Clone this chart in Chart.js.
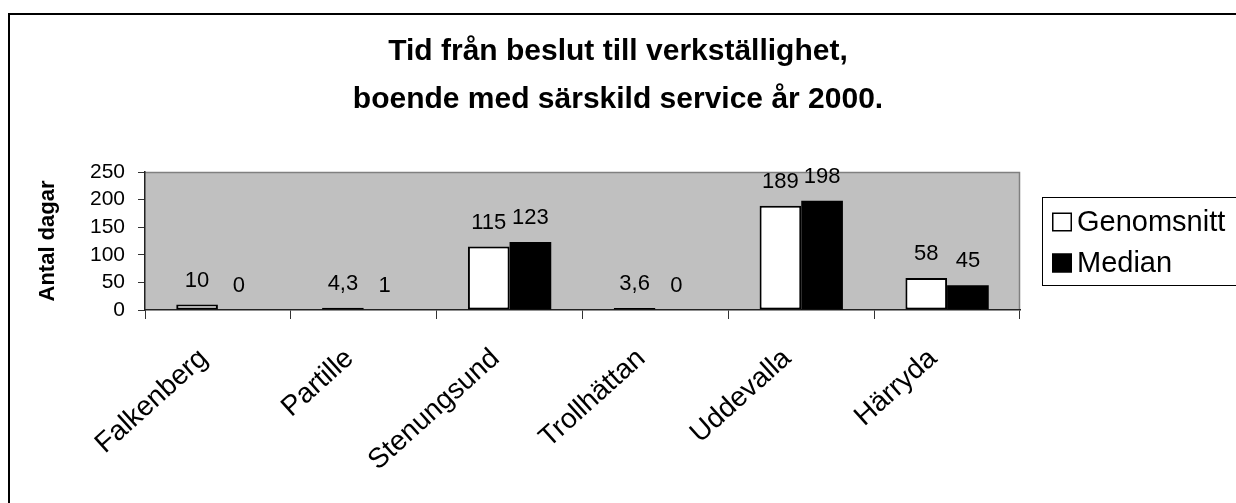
<!DOCTYPE html>
<html><head><meta charset="utf-8">
<script src="https://cdn.jsdelivr.net/npm/chart.js@4/dist/chart.umd.min.js"></script>
<style>html,body{margin:0;padding:0;background:#fff;overflow:hidden;}</style>
</head><body>
<canvas id="c" width="1236" height="503" style="display:block;width:1236px;height:503px"></canvas>
<script>
const titleLines = ['Tid från beslut till verkställighet,', 'boende med särskild service år 2000.'];
const categories = ['Falkenberg', 'Partille', 'Stenungsund', 'Trollhättan', 'Uddevalla', 'Härryda'];
const genomsnitt = [10, 4.3, 115, 3.6, 189, 58];
const median = [0, 1, 123, 0, 198, 45];
const seriesNames = ['Genomsnitt', 'Median'];
const seriesFill = ['#ffffff', '#000000'];
const yTickStep = 50;
const yMin = 0;
const yMax = 250;
const yAxisTitle = 'Antal dagar';

const FONT = "'Liberation Sans', Arial, Helvetica, sans-serif";

const decorPlugin = {
  id: 'decor',
  beforeDraw(chart) {
    const ctx = chart.ctx, a = chart.chartArea;
    ctx.save();
    ctx.fillStyle = '#ffffff';
    ctx.fillRect(0, 0, chart.width, chart.height);
    ctx.strokeStyle = '#000';
    ctx.lineWidth = 2;
    ctx.strokeRect(9, 14, 1400, 700);
    ctx.fillStyle = '#C0C0C0';
    ctx.fillRect(a.left, a.top, a.right - a.left, a.bottom - a.top);
    ctx.strokeStyle = '#808080';
    ctx.lineWidth = 1.5;
    ctx.beginPath();
    ctx.moveTo(a.left, a.top + 0.5);
    ctx.lineTo(a.right - 0.5, a.top + 0.5);
    ctx.lineTo(a.right - 0.5, a.bottom);
    ctx.stroke();
    ctx.restore();
  },
  afterDatasetsDraw(chart) {
    const ctx = chart.ctx;
    ctx.save();
    ctx.font = '22px ' + FONT;
    ctx.fillStyle = '#000';
    ctx.textAlign = 'center';
    ctx.textBaseline = 'middle';
    chart.data.datasets.forEach((ds, i) => {
      const meta = chart.getDatasetMeta(i);
      meta.data.forEach((bar, j) => {
        const v = ds.data[j];
        ctx.fillText(String(v).replace('.', ','), bar.x, bar.y - 24);
      });
    });
    ctx.restore();
  },
  afterDraw(chart) {
    const ctx = chart.ctx;
    ctx.save();
    // title
    ctx.font = 'bold 30px ' + FONT;
    ctx.fillStyle = '#000';
    ctx.textAlign = 'center';
    ctx.textBaseline = 'alphabetic';
    ctx.fillText(titleLines[0], 618, 60);
    ctx.fillText(titleLines[1], 618, 108);
    // legend
    ctx.strokeStyle = '#000';
    ctx.lineWidth = 1;
    ctx.strokeRect(1042.5, 197.5, 260, 88);
    ctx.font = '29px ' + FONT;
    ctx.textAlign = 'left';
    ctx.textBaseline = 'middle';
    const rows = [222, 263];
    chart.data.datasets.forEach((ds, i) => {
      const y = rows[i];
      ctx.fillStyle = ds.backgroundColor;
      ctx.fillRect(1052, y - 9.5, 20, 19);
      ctx.lineWidth = 1.5;
      ctx.strokeStyle = '#000';
      ctx.strokeRect(1052.75, y - 8.75, 18.5, 17.5);
      ctx.fillStyle = '#000';
      ctx.fillText(ds.label, 1077, y + 1);
    });
    ctx.restore();
  }
};

new Chart(document.getElementById('c'), {
  type: 'bar',
  data: {
    labels: categories,
    datasets: [
      { label: seriesNames[0], data: genomsnitt, backgroundColor: seriesFill[0], borderColor: '#000', borderWidth: 2, borderSkipped: false },
      { label: seriesNames[1], data: median, backgroundColor: seriesFill[1], borderColor: '#000', borderWidth: 0 }
    ]
  },
  options: {
    responsive: false,
    animation: false,
    devicePixelRatio: 1,
    layout: { padding: { top: 172, left: 8, right: 216, bottom: 0 } },
    datasets: { bar: { categoryPercentage: 0.5714, barPercentage: 1.0 } },
    plugins: { legend: { display: false }, title: { display: false }, tooltip: { enabled: false } },
    scales: {
      x: {
        offset: true,
        grid: { offset: true, drawOnChartArea: false, drawTicks: true, tickLength: 9, color: '#000', tickColor: '#333' },
        border: { display: true, color: '#222', width: 1.5 },
        ticks: {
          autoSkip: false, minRotation: 42, maxRotation: 42, padding: 23, labelOffset: -14,
          color: '#000', font: { family: FONT, size: 28 }
        },
        afterFit(scale) { scale.height = 193; }
      },
      y: {
        min: yMin, max: yMax,
        grid: { drawOnChartArea: false, drawTicks: true, tickLength: 7, color: '#000', tickColor: '#333' },
        border: { display: true, color: '#222', width: 1.5 },
        ticks: { autoSkip: false, stepSize: yTickStep, padding: 13, color: '#000', font: { family: FONT, size: 21 } },
        title: { display: true, text: yAxisTitle, color: '#000', font: { family: FONT, size: 22, weight: 'bold' }, padding: { top: 27, bottom: 0 } },
        afterFit(scale) { scale.width = 137; }
      }
    }
  },
  plugins: [decorPlugin]
});
</script>
</body></html>
